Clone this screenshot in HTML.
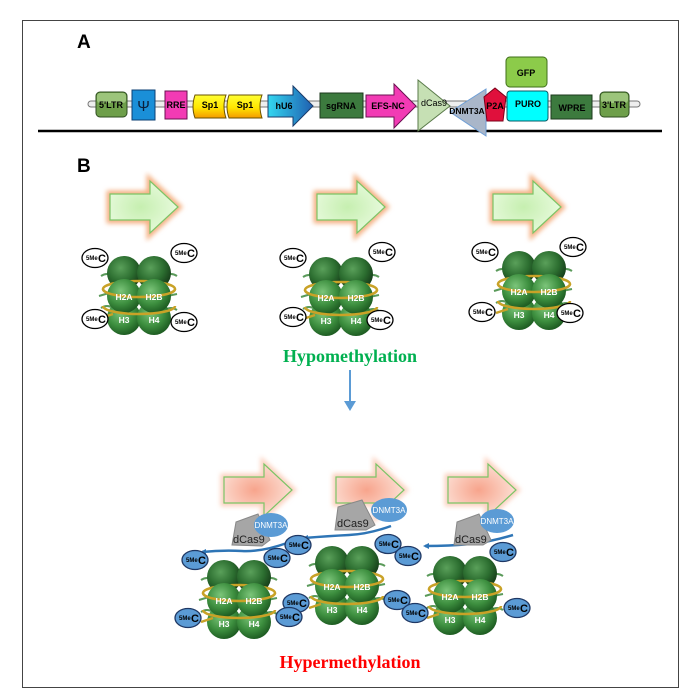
<!DOCTYPE html>
<html><head><meta charset="utf-8"><style>
html,body{margin:0;padding:0;background:#fff;width:700px;height:696px;overflow:hidden}
svg{display:block;font-family:"Liberation Sans",sans-serif}
</style></head><body>
<svg width="700" height="696" viewBox="0 0 700 696" xmlns="http://www.w3.org/2000/svg">
<defs>
<radialGradient id="sph" cx="0.4" cy="0.35" r="0.65"><stop offset="0" stop-color="#7cc57a"/><stop offset="0.6" stop-color="#3d8f3f"/><stop offset="1" stop-color="#1f5e23"/></radialGradient>
<radialGradient id="sphd" cx="0.4" cy="0.35" r="0.65"><stop offset="0" stop-color="#5aa05a"/><stop offset="0.6" stop-color="#2c6e30"/><stop offset="1" stop-color="#173f1a"/></radialGradient>
<radialGradient id="garr" cx="0.45" cy="0.5" r="0.6"><stop offset="0" stop-color="#c6efb0"/><stop offset="1" stop-color="#eafbe0"/></radialGradient>
<radialGradient id="rarr" cx="0.45" cy="0.5" r="0.6"><stop offset="0" stop-color="#f7a48c"/><stop offset="1" stop-color="#fde4da"/></radialGradient>
<linearGradient id="sp1" x1="0" y1="0" x2="0" y2="1"><stop offset="0" stop-color="#ffff33"/><stop offset="0.55" stop-color="#ffe600"/><stop offset="1" stop-color="#f59a00"/></linearGradient>
<linearGradient id="hu6" x1="0" y1="0" x2="1" y2="0"><stop offset="0" stop-color="#33d6f0"/><stop offset="1" stop-color="#1f5fb0"/></linearGradient>
<filter id="glow" x="-20%" y="-20%" width="140%" height="140%"><feGaussianBlur stdDeviation="2.5"/></filter>
<g id="nuc">
<path d="M-6,20 q6,-4 12,0 M58,20 q6,-4 12,0 M-8,40 l10,-3 M60,40 l10,-2 M-6,52 q6,-4 12,0 M58,54 q6,-4 12,0" stroke="#5a9a5a" stroke-width="2" fill="none"/>
<circle cx="17" cy="17" r="17" fill="url(#sphd)"/><circle cx="47" cy="17" r="17" fill="url(#sphd)"/>
<circle cx="17" cy="62" r="17" fill="url(#sph)"/><circle cx="47" cy="62" r="17" fill="url(#sph)"/>
<ellipse cx="32" cy="33" rx="36" ry="8" fill="none" stroke="#c9a227" stroke-width="2.5"/>
<circle cx="17" cy="40" r="17" fill="url(#sph)"/><circle cx="47" cy="40" r="17" fill="url(#sph)"/>
<path d="M-4,33 a36,8 0 0 0 72,0" fill="none" stroke="#c9a227" stroke-width="2.5"/>
<path d="M-4,50 a36,8 0 0 0 72,0" fill="none" stroke="#c9a227" stroke-width="2.5"/>
<line x1="-6" y1="62" x2="6" y2="58" stroke="#c9a227" stroke-width="2.5"/>
</g>
<g id="garrow"><path d="M0,13 H40 V0 L68,26 L40,52 V39 H0 Z" fill="none" stroke="#f4b183" stroke-width="7" filter="url(#glow)"/><path d="M0,13 H40 V0 L68,26 L40,52 V39 H0 Z" fill="url(#garr)" stroke="#7cc466" stroke-width="1.2"/></g>
<g id="rarrow"><path d="M0,13 H40 V0 L68,26 L40,52 V39 H0 Z" fill="none" stroke="#fbd1c0" stroke-width="7" filter="url(#glow)"/><path d="M0,13 H40 V0 L68,26 L40,52 V39 H0 Z" fill="url(#rarr)" stroke="#7cc466" stroke-width="1.2"/></g>
<ellipse id="wov" rx="13" ry="9.5" fill="#fff" stroke="#000" stroke-width="1.3"/>
<ellipse id="bov" rx="13" ry="9.5" fill="#5b9bd5" stroke="#1f3864" stroke-width="1.3"/>
</defs>

<rect x="22.5" y="20.5" width="656" height="667" fill="none" stroke="#444" stroke-width="1"/>
<text x="77" y="48" font-size="19" font-weight="bold">A</text>
<text x="77" y="172" font-size="19" font-weight="bold">B</text>
<line x1="38" y1="131" x2="662" y2="131" stroke="#000" stroke-width="2.5"/>

<!-- construct -->
<rect x="88" y="101" width="552" height="6" rx="3" fill="#eee" stroke="#777" stroke-width="1"/>
<g font-size="9" font-weight="bold" text-anchor="middle">
<rect x="96" y="92" width="31" height="25" rx="4" fill="#6e9f4a" stroke="#2d4d1f"/><rect x="97" y="93" width="29" height="10" rx="3" fill="#9cc57b"/><text x="111" y="108">5'LTR</text>
<rect x="132" y="90" width="23" height="30" fill="#1a8fd8" stroke="#0b3f73"/><text x="143.5" y="111" font-size="15" font-weight="normal" fill="#0b1f3a">Ψ</text>
<rect x="165" y="91" width="22" height="28" fill="#f23bb4" stroke="#6a1050"/><text x="176" y="108" fill="#000">RRE</text>
<path d="M195,95 H226 q-4,11 0,23 H195 q-4,-11 0,-23Z" fill="url(#sp1)" stroke="#6a5200"/><text x="210" y="108">Sp1</text>
<path d="M229,95 H262 q-4,11 0,23 H229 q-4,-11 0,-23Z" fill="url(#sp1)" stroke="#6a5200"/><text x="245" y="108">Sp1</text>
<path d="M268,95 H293 V86 L313,106 L293,126 V117 H268Z" fill="url(#hu6)" stroke="#1a3b6a"/><text x="284" y="109">hU6</text>
<rect x="320" y="93" width="43" height="25" fill="#3c7a3e" stroke="#1c3a1d"/><text x="341" y="109" fill="#000">sgRNA</text>
<path d="M366,95 H394 V84 L416,106 L394,128 V117 H366Z" fill="#f23bb4" stroke="#6a1050"/><text x="388" y="109">EFS-NC</text>
<path d="M418,80 L450,106 L418,131Z" fill="#c6e0b4" stroke="#5a7a4a"/>
<path d="M486,89 L450,112 L486,136Z" fill="#a9b6c9" stroke="#6f9fd6"/>
<text x="434" y="106" font-size="9" font-weight="normal" fill="#000">dCas9</text>
<text x="467" y="114" font-size="8.5">DNMT3A</text>
<path d="M495,88 L506,97 L503,121 L487,121 L484,97Z" fill="#e0103c" stroke="#7a0018"/><text x="495" y="109" font-size="9">P2A</text>
<rect x="506" y="57" width="41" height="30" rx="4" fill="#8ccb4a" stroke="#3f6f1a"/><text x="526" y="76">GFP</text>
<rect x="507" y="91" width="41" height="30" rx="3" fill="#00ffff" stroke="#0b5a66"/><text x="528" y="107">PURO</text>
<rect x="551" y="95" width="41" height="24" fill="#3c7a3e" stroke="#1c3a1d"/><text x="572" y="111">WPRE</text>
<rect x="600" y="92" width="29" height="25" rx="4" fill="#6e9f4a" stroke="#2d4d1f"/><rect x="601" y="93" width="27" height="10" rx="3" fill="#9cc57b"/><text x="614" y="108">3'LTR</text>
</g>

<!-- top arrows -->
<use href="#garrow" x="110" y="181"/>
<use href="#garrow" x="317" y="181"/>
<use href="#garrow" x="493" y="181"/>

<!-- top nucleosomes -->
<g font-size="8.5" font-weight="bold" fill="#fff" text-anchor="middle">
<g transform="translate(107,256)"><use href="#nuc"/><text x="17" y="44">H2A</text><text x="47" y="44">H2B</text><text x="17" y="67">H3</text><text x="47" y="67">H4</text></g>
<g transform="translate(309,257)"><use href="#nuc"/><text x="17" y="44">H2A</text><text x="47" y="44">H2B</text><text x="17" y="67">H3</text><text x="47" y="67">H4</text></g>
<g transform="translate(502,251)"><use href="#nuc"/><text x="17" y="44">H2A</text><text x="47" y="44">H2B</text><text x="17" y="67">H3</text><text x="47" y="67">H4</text></g>
</g>

<!-- white SMeC -->
<g font-weight="bold" fill="#000">
<g transform="translate(95,258)"><use href="#wov"/><text x="-9" y="2" font-size="6">5Me</text><text x="3" y="4" font-size="11">C</text></g>
<g transform="translate(184,253)"><use href="#wov"/><text x="-9" y="2" font-size="6">5Me</text><text x="3" y="4" font-size="11">C</text></g>
<g transform="translate(95,319)"><use href="#wov"/><text x="-9" y="2" font-size="6">5Me</text><text x="3" y="4" font-size="11">C</text></g>
<g transform="translate(184,322)"><use href="#wov"/><text x="-9" y="2" font-size="6">5Me</text><text x="3" y="4" font-size="11">C</text></g>
<g transform="translate(293,258)"><use href="#wov"/><text x="-9" y="2" font-size="6">5Me</text><text x="3" y="4" font-size="11">C</text></g>
<g transform="translate(382,252)"><use href="#wov"/><text x="-9" y="2" font-size="6">5Me</text><text x="3" y="4" font-size="11">C</text></g>
<g transform="translate(293,317)"><use href="#wov"/><text x="-9" y="2" font-size="6">5Me</text><text x="3" y="4" font-size="11">C</text></g>
<g transform="translate(380,320)"><use href="#wov"/><text x="-9" y="2" font-size="6">5Me</text><text x="3" y="4" font-size="11">C</text></g>
<g transform="translate(485,252)"><use href="#wov"/><text x="-9" y="2" font-size="6">5Me</text><text x="3" y="4" font-size="11">C</text></g>
<g transform="translate(573,247)"><use href="#wov"/><text x="-9" y="2" font-size="6">5Me</text><text x="3" y="4" font-size="11">C</text></g>
<g transform="translate(482,312)"><use href="#wov"/><text x="-9" y="2" font-size="6">5Me</text><text x="3" y="4" font-size="11">C</text></g>
<g transform="translate(570,313)"><use href="#wov"/><text x="-9" y="2" font-size="6">5Me</text><text x="3" y="4" font-size="11">C</text></g>
</g>

<text x="350" y="362" font-family="Liberation Serif,serif" font-size="18" font-weight="bold" fill="#00b050" text-anchor="middle">Hypomethylation</text>
<line x1="350" y1="370" x2="350" y2="402" stroke="#5b9bd5" stroke-width="2"/>
<path d="M344,401 L350,411 L356,401Z" fill="#5b9bd5"/>

<!-- red arrows -->
<use href="#rarrow" x="224" y="464"/>
<use href="#rarrow" x="336" y="464"/>
<use href="#rarrow" x="448" y="464"/>

<!-- bottom nucleosomes -->
<g font-size="8.5" font-weight="bold" fill="#fff" text-anchor="middle">
<g transform="translate(207,560)"><use href="#nuc"/><text x="17" y="44">H2A</text><text x="47" y="44">H2B</text><text x="17" y="67">H3</text><text x="47" y="67">H4</text></g>
<g transform="translate(315,546)"><use href="#nuc"/><text x="17" y="44">H2A</text><text x="47" y="44">H2B</text><text x="17" y="67">H3</text><text x="47" y="67">H4</text></g>
<g transform="translate(433,556)"><use href="#nuc"/><text x="17" y="44">H2A</text><text x="47" y="44">H2B</text><text x="17" y="67">H3</text><text x="47" y="67">H4</text></g>
</g>

<!-- dCas9 + DNMT3A -->
<g font-size="11">
<path d="M202,552 q20,-2 40,-1 t45,-8" fill="none" stroke="#2e75b6" stroke-width="2.5"/><path d="M200,552 l6,-3 v6z" fill="#2e75b6"/>
<path d="M236,522 L258,514 L270,540 L262,546 L232,545 Z" fill="#a6a6a6" stroke="#888"/>
<ellipse cx="271" cy="525" rx="17" ry="12" fill="#5b9bd5"/><text x="271" y="528" font-size="8" fill="#fff" text-anchor="middle">DNMT3A</text>
<text x="233" y="543" fill="#222">dCas9</text>

<path d="M304,538 q25,-2 45,-3 t42,-9" fill="none" stroke="#2e75b6" stroke-width="2.5"/><path d="M302,538 l6,-3 v6z" fill="#2e75b6"/>
<path d="M338,507 L362,500 L375,525 L366,530 L335,530 Z" fill="#a6a6a6" stroke="#888"/>
<ellipse cx="389" cy="510" rx="18" ry="12" fill="#5b9bd5"/><text x="389" y="513" font-size="8" fill="#fff" text-anchor="middle">DNMT3A</text>
<text x="337" y="527" fill="#222">dCas9</text>

<path d="M425,546 q25,0 45,-2 t43,-9" fill="none" stroke="#2e75b6" stroke-width="2.5"/><path d="M423,546 l6,-3 v6z" fill="#2e75b6"/>
<path d="M457,522 L479,514 L491,540 L483,545 L454,545 Z" fill="#a6a6a6" stroke="#888"/>
<ellipse cx="497" cy="521" rx="17" ry="12" fill="#5b9bd5"/><text x="497" y="524" font-size="8" fill="#fff" text-anchor="middle">DNMT3A</text>
<text x="455" y="543" fill="#222">dCas9</text>
</g>

<!-- blue SMeC -->
<g font-weight="bold" fill="#000">
<g transform="translate(195,560)"><use href="#bov"/><text x="-9" y="2" font-size="6">5Me</text><text x="3" y="4" font-size="11">C</text></g>
<g transform="translate(277,558)"><use href="#bov"/><text x="-9" y="2" font-size="6">5Me</text><text x="3" y="4" font-size="11">C</text></g>
<g transform="translate(188,618)"><use href="#bov"/><text x="-9" y="2" font-size="6">5Me</text><text x="3" y="4" font-size="11">C</text></g>
<g transform="translate(296,603)"><use href="#bov"/><text x="-9" y="2" font-size="6">5Me</text><text x="3" y="4" font-size="11">C</text></g>
<g transform="translate(289,617)"><use href="#bov"/><text x="-9" y="2" font-size="6">5Me</text><text x="3" y="4" font-size="11">C</text></g>
<g transform="translate(298,545)"><use href="#bov"/><text x="-9" y="2" font-size="6">5Me</text><text x="3" y="4" font-size="11">C</text></g>
<g transform="translate(388,544)"><use href="#bov"/><text x="-9" y="2" font-size="6">5Me</text><text x="3" y="4" font-size="11">C</text></g>
<g transform="translate(408,556)"><use href="#bov"/><text x="-9" y="2" font-size="6">5Me</text><text x="3" y="4" font-size="11">C</text></g>
<g transform="translate(397,600)"><use href="#bov"/><text x="-9" y="2" font-size="6">5Me</text><text x="3" y="4" font-size="11">C</text></g>
<g transform="translate(415,613)"><use href="#bov"/><text x="-9" y="2" font-size="6">5Me</text><text x="3" y="4" font-size="11">C</text></g>
<g transform="translate(503,552)"><use href="#bov"/><text x="-9" y="2" font-size="6">5Me</text><text x="3" y="4" font-size="11">C</text></g>
<g transform="translate(517,608)"><use href="#bov"/><text x="-9" y="2" font-size="6">5Me</text><text x="3" y="4" font-size="11">C</text></g>
</g>

<text x="350" y="668" font-family="Liberation Serif,serif" font-size="18" font-weight="bold" fill="#ff0000" text-anchor="middle">Hypermethylation</text>
</svg>
</body></html>
